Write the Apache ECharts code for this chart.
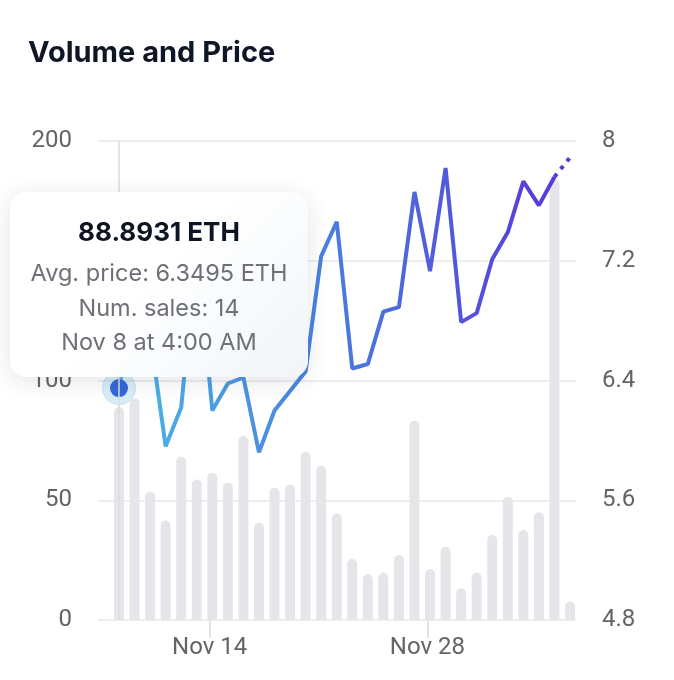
<!DOCTYPE html>
<html>
<head>
<meta charset="utf-8">
<script src="https://cdn.jsdelivr.net/npm/echarts@6/dist/echarts.min.js"></script>
<style>
  html, body { margin: 0; padding: 0; background: #ffffff; }
  #chart { width: 674px; height: 680px; }
</style>
</head>
<body>
<div id="chart"></div>
<script>
// ---- data ----
const chartTitle = 'Volume and Price';
const dates = [
  '2021-11-08 04:00', '2021-11-09 04:00', '2021-11-10 04:00', '2021-11-11 04:00', '2021-11-12 04:00',
  '2021-11-13 04:00', '2021-11-14 04:00', '2021-11-15 04:00', '2021-11-16 04:00', '2021-11-17 04:00',
  '2021-11-18 04:00', '2021-11-19 04:00', '2021-11-20 04:00', '2021-11-21 04:00', '2021-11-22 04:00',
  '2021-11-23 04:00', '2021-11-24 04:00', '2021-11-25 04:00', '2021-11-26 04:00', '2021-11-27 04:00',
  '2021-11-28 04:00', '2021-11-29 04:00', '2021-11-30 04:00', '2021-12-01 04:00', '2021-12-02 04:00',
  '2021-12-03 04:00', '2021-12-04 04:00', '2021-12-05 04:00', '2021-12-06 04:00', '2021-12-07 04:00'
];
const volume = [
  88.8931, 92.6, 53.6, 41.5, 68.2, 58.7, 61.5, 57.3, 76.8, 40.6,
  55.2, 56.6, 70.3, 64.4, 44.5, 25.5, 19.1, 19.8, 27.1, 83.2,
  21.3, 30.6, 13.2, 19.8, 35.5, 51.5, 37.6, 45.0, 184.0, 7.7
];
const avgPrice = [
  6.3495, 6.90, 6.70, 5.96, 6.22, 7.30, 6.20, 6.38, 6.42, 5.92,
  6.20, 6.33, 6.46, 7.23, 7.46, 6.48, 6.51, 6.86, 6.89, 7.66,
  7.13, 7.82, 6.79, 6.85, 7.21, 7.39, 7.73, 7.57, 7.76, 7.89
];
const selectedIndex = 0;
const selectedSales = 14;
const xTickValues = ['2021-11-14 00:00', '2021-11-28 00:00'];
const xTickLabels = ['Nov 14', 'Nov 28'];
const xRange = ['2021-11-06 19:36', '2021-12-07 13:16'];
const volumeTicks = { min: 0, max: 200, interval: 50 };
const priceTicks = { min: 4.8, max: 8, interval: 0.8 };
const monthNames = ['Jan','Feb','Mar','Apr','May','Jun','Jul','Aug','Sep','Oct','Nov','Dec'];

// ---- build ----
function parseDate(s) {
  const [d, t] = s.split(' ');
  const [y, mo, da] = d.split('-').map(Number);
  const [h, mi] = t.split(':').map(Number);
  return new Date(y, mo - 1, da, h, mi);
}
const toTime = s => parseDate(s).getTime();
const times = dates.map(toTime);
const n = dates.length;
const barData = times.map((t, i) => [t, volume[i]]);
const lineData = times.slice(0, n - 1).map((t, i) => [t, avgPrice[i]]);
const tailData = [[times[n - 2], avgPrice[n - 2]], [times[n - 1], avgPrice[n - 1]]];
const selData = [[times[selectedIndex], avgPrice[selectedIndex]]];
const tickTimes = xTickValues.map(toTime);

function fmtDate(s) {
  const d = parseDate(s);
  let h = d.getHours();
  const ampm = h >= 12 ? 'PM' : 'AM';
  h = h % 12; if (h === 0) h = 12;
  const m = String(d.getMinutes()).padStart(2, '0');
  return monthNames[d.getMonth()] + ' ' + d.getDate() + ' at ' + h + ':' + m + ' ' + ampm;
}

const labelFont = { fontFamily: 'Roboto', fontSize: 24, color: '#646464' };
const chart = echarts.init(document.getElementById('chart'), null, { renderer: 'canvas' });

chart.setOption({
  animation: false,
  backgroundColor: '#ffffff',
  title: {
    text: chartTitle,
    left: 28, top: 39, padding: 0,
    textStyle: { fontFamily: 'Inter', fontWeight: 700, fontSize: 29, color: '#0f1726' }
  },
  grid: { left: 98, right: 98, top: 141, bottom: 60, containLabel: false },
  tooltip: {
    trigger: 'axis',
    alwaysShowContent: true,
    transitionDuration: 0,
    position: [10, 192],
    padding: 0,
    borderWidth: 0,
    backgroundColor: '#ffffff',
    axisPointer: { type: 'line', lineStyle: { color: '#dcdcdc', width: 1.5, type: 'solid' } },
    extraCssText: 'width:298px;height:185px;box-sizing:border-box;border-radius:16px;' +
      'box-shadow:0 4px 22px rgba(40,50,70,0.13);background:linear-gradient(135deg,#ffffff 45%,#f1f5f9 100%);',
    formatter: function (params) {
      const list = Array.isArray(params) ? params : [params];
      let idx = selectedIndex, vol = volume[idx], pr = avgPrice[idx];
      list.forEach(p => {
        if (p.seriesName === 'Volume') { idx = p.dataIndex; vol = p.value[1]; pr = avgPrice[idx]; }
      });
      const sub = 'height:34.5px;line-height:34.5px;font-size:23.5px;color:#6e7076;white-space:nowrap;';
      return '<div style="text-align:center;font-family:Inter,sans-serif;">' +
        '<div style="padding-top:23px;height:34px;line-height:34px;font-size:26px;font-weight:700;color:#0d1424;">' +
        vol.toFixed(4) + ' ETH</div>' +
        '<div style="margin-top:7px;' + sub + '">Avg. price: ' + pr.toFixed(4) + ' ETH</div>' +
        '<div style="' + sub + '">Num. sales: ' + selectedSales + '</div>' +
        '<div style="' + sub + '">' + fmtDate(dates[idx]) + '</div>' +
        '</div>';
    }
  },
  xAxis: {
    type: 'value',
    min: toTime(xRange[0]),
    max: toTime(xRange[1]),
    axisLine: { show: false },
    splitLine: { show: false },
    axisTick: { show: true, customValues: tickTimes, length: 18, lineStyle: { color: '#d9d9d9', width: 1.5 } },
    axisLabel: {
      customValues: tickTimes,
      margin: 16,
      ...labelFont,
      formatter: function (v) {
        const i = tickTimes.indexOf(v);
        return i >= 0 ? xTickLabels[i] : '';
      }
    }
  },
  yAxis: [
    {
      type: 'value', position: 'left',
      min: volumeTicks.min, max: volumeTicks.max, interval: volumeTicks.interval,
      axisLine: { show: false }, axisTick: { show: false },
      splitLine: { lineStyle: { color: '#e8e8ea', width: 1.5 } },
      axisLabel: { margin: 26, ...labelFont }
    },
    {
      type: 'value', position: 'right',
      min: priceTicks.min, max: priceTicks.max, interval: priceTicks.interval,
      axisLine: { show: false }, axisTick: { show: false },
      splitLine: { show: false },
      axisLabel: { margin: 26, ...labelFont, formatter: v => String(+v.toFixed(1)) }
    }
  ],
  series: [
    {
      name: 'Volume', type: 'bar', yAxisIndex: 0,
      data: barData, barWidth: 10,
      itemStyle: { color: '#e5e6ea', borderRadius: [5, 5, 0, 0] },
      emphasis: { disabled: true }
    },
    {
      name: 'Avg. price', type: 'line', yAxisIndex: 1,
      data: lineData, symbol: 'none', z: 3,
      lineStyle: {
        width: 4,
        color: {
          type: 'linear', x: 0, y: 0, x2: 1, y2: 0,
          colorStops: [
            { offset: 0, color: '#4cb8e6' },
            { offset: 0.5, color: '#4a7be0' },
            { offset: 1, color: '#5938d9' }
          ]
        }
      },
      emphasis: { disabled: true }
    },
    {
      name: 'Avg. price (partial)', type: 'line', yAxisIndex: 1,
      data: tailData, symbol: 'none', z: 3,
      lineStyle: { width: 4, color: '#5a37d9', type: [4, 6] },
      emphasis: { disabled: true }
    },
    {
      name: 'Halo', type: 'scatter', yAxisIndex: 1,
      data: selData, symbolSize: 33, z: 4,
      itemStyle: { color: 'rgba(120,190,230,0.28)', borderColor: 'rgba(120,190,230,0.35)', borderWidth: 1, opacity: 1 },
      emphasis: { disabled: true }, silent: true
    },
    {
      name: 'Selected', type: 'scatter', yAxisIndex: 1,
      data: selData, symbolSize: 18, z: 5,
      itemStyle: { color: '#3468d8', opacity: 1 },
      emphasis: { disabled: true }, silent: true
    }
  ]
});

function showTip() {
  chart.dispatchAction({ type: 'showTip', seriesIndex: 0, dataIndex: selectedIndex });
}
showTip();
setTimeout(showTip, 50);
</script>
</body>
</html>
